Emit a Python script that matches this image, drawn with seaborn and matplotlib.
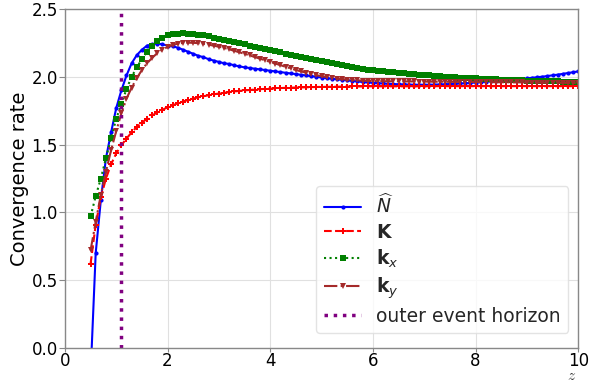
import numpy as np
import pandas as pd
import matplotlib
matplotlib.use("Agg")
import matplotlib.pyplot as plt
import seaborn as sns

# sample positions along z
z = [0.5, 0.6, 0.7, 0.8, 0.9, 1.0, 1.1, 1.2, 1.3, 1.4,
     1.5, 1.6, 1.7, 1.8, 1.9, 2.0, 2.1, 2.2, 2.3, 2.4,
     2.5, 2.6, 2.7, 2.8, 2.9, 3.0, 3.1, 3.2, 3.3, 3.4,
     3.5, 3.6, 3.7, 3.8, 3.9, 4.0, 4.1, 4.2, 4.3, 4.4,
     4.5, 4.6, 4.7, 4.8, 4.9, 5.0, 5.1, 5.2, 5.3, 5.4,
     5.5, 5.6, 5.7, 5.8, 5.9, 6.0, 6.1, 6.2, 6.3, 6.4,
     6.5, 6.6, 6.7, 6.8, 6.9, 7.0, 7.1, 7.2, 7.3, 7.4,
     7.5, 7.6, 7.7, 7.8, 7.9, 8.0, 8.1, 8.2, 8.3, 8.4,
     8.5, 8.6, 8.7, 8.8, 8.9, 9.0, 9.1, 9.2, 9.3, 9.4,
     9.5, 9.6, 9.7, 9.8, 9.9, 10.0]

# convergence rate of the lapse N-hat
rate_N = [-0.20, 0.70, 1.09, 1.40, 1.59, 1.77, 1.90, 2.01, 2.10, 2.16,
          2.20, 2.23, 2.24, 2.245, 2.24, 2.23, 2.225, 2.215, 2.20, 2.185,
          2.17, 2.155, 2.145, 2.13, 2.12, 2.11, 2.10, 2.095, 2.085, 2.077,
          2.07, 2.065, 2.06, 2.055, 2.05, 2.045, 2.04, 2.035, 2.03, 2.025,
          2.02, 2.015, 2.01, 2.005, 2.00, 1.995, 1.99, 1.986, 1.982, 1.978,
          1.974, 1.97, 1.966, 1.962, 1.959, 1.956, 1.953, 1.951, 1.949, 1.947,
          1.945, 1.944, 1.943, 1.942, 1.942, 1.942, 1.942, 1.943, 1.944, 1.945,
          1.947, 1.949, 1.951, 1.953, 1.955, 1.958, 1.961, 1.964, 1.967, 1.970,
          1.973, 1.976, 1.979, 1.982, 1.985, 1.989, 1.993, 1.997, 2.001, 2.006,
          2.011, 2.016, 2.022, 2.028, 2.034, 2.040]

# convergence rate of the mean curvature K
rate_K = [0.62, 0.91, 1.11, 1.25, 1.355, 1.435, 1.495, 1.545, 1.59, 1.63,
          1.663, 1.69, 1.715, 1.738, 1.757, 1.775, 1.79, 1.805, 1.818, 1.829,
          1.84, 1.849, 1.857, 1.864, 1.871, 1.877, 1.882, 1.887, 1.892, 1.896,
          1.90, 1.903, 1.906, 1.909, 1.911, 1.913, 1.915, 1.917, 1.919, 1.920,
          1.921, 1.922, 1.923, 1.924, 1.925, 1.926, 1.926, 1.927, 1.927, 1.928,
          1.928, 1.929, 1.929, 1.929, 1.930, 1.930, 1.930, 1.930, 1.930, 1.930,
          1.930, 1.930, 1.930, 1.930, 1.930, 1.930, 1.931, 1.931, 1.931, 1.931,
          1.931, 1.931, 1.931, 1.931, 1.931, 1.931, 1.931, 1.931, 1.931, 1.931,
          1.931, 1.931, 1.931, 1.931, 1.931, 1.931, 1.931, 1.931, 1.931, 1.931,
          1.931, 1.931, 1.931, 1.931, 1.931, 1.931]

# convergence rate of the k_x component
rate_kx = [0.97, 1.12, 1.25, 1.40, 1.55, 1.69, 1.80, 1.91, 2.00, 2.07,
           2.13, 2.185, 2.23, 2.265, 2.29, 2.305, 2.313, 2.318, 2.32, 2.319,
           2.316, 2.311, 2.305, 2.298, 2.29, 2.282, 2.274, 2.266, 2.258, 2.249,
           2.240, 2.231, 2.222, 2.213, 2.204, 2.196, 2.188, 2.180, 2.172, 2.164,
           2.156, 2.148, 2.140, 2.132, 2.124, 2.116, 2.108, 2.100, 2.093, 2.086,
           2.079, 2.072, 2.066, 2.060, 2.054, 2.048, 2.044, 2.040, 2.036, 2.032,
           2.028, 2.025, 2.022, 2.019, 2.016, 2.013, 2.010, 2.007, 2.004, 2.001,
           1.999, 1.997, 1.995, 1.993, 1.991, 1.989, 1.987, 1.985, 1.983, 1.981,
           1.979, 1.978, 1.976, 1.975, 1.973, 1.972, 1.971, 1.970, 1.969, 1.968,
           1.967, 1.966, 1.965, 1.964, 1.963, 1.962]

# convergence rate of the k_y component
rate_ky = [0.72, 0.93, 1.13, 1.30, 1.46, 1.60, 1.73, 1.84, 1.92, 1.99,
           2.05, 2.10, 2.14, 2.175, 2.20, 2.22, 2.235, 2.245, 2.25, 2.252,
           2.251, 2.248, 2.243, 2.237, 2.23, 2.222, 2.213, 2.203, 2.192, 2.181,
           2.17, 2.158, 2.146, 2.134, 2.122, 2.11, 2.098, 2.086, 2.074, 2.062,
           2.05, 2.04, 2.03, 2.02, 2.012, 2.005, 1.998, 1.992, 1.987, 1.983,
           1.979, 1.976, 1.974, 1.972, 1.970, 1.969, 1.968, 1.968, 1.967, 1.967,
           1.967, 1.966, 1.966, 1.966, 1.965, 1.965, 1.965, 1.964, 1.964, 1.964,
           1.963, 1.963, 1.963, 1.962, 1.962, 1.962, 1.961, 1.961, 1.961, 1.960,
           1.960, 1.960, 1.959, 1.959, 1.959, 1.958, 1.958, 1.958, 1.957, 1.957,
           1.957, 1.956, 1.956, 1.956, 1.955, 1.955]

horizon_z = 1.1

series_labels = [r"$\widehat{N}$", r"$\mathbf{K}$", r"$\mathbf{k}_x$", r"$\mathbf{k}_y$"]
series_values = [rate_N, rate_K, rate_kx, rate_ky]
series_colors = ["blue", "red", "green", "brown"]
series_styles = ["-", "--", ":", "-."]
series_markers = [".", "P", "s", "v"]
series_msize = [6, 5, 4, 4]

sns.set_style("whitegrid", {
    "axes.edgecolor": "#888888",
    "grid.color": "#e0e0e0",
    "xtick.bottom": True,
    "ytick.left": True,
    "xtick.color": "#888888",
    "ytick.color": "#888888",
})
plt.rcParams["font.family"] = ["DejaVu Sans"]
plt.rcParams["mathtext.fontset"] = "dejavusans"

fig = plt.figure(figsize=(5.9, 3.83), dpi=100)
ax = fig.add_axes([0.110, 0.0914, 0.870, 0.885])

for lab, vals, col, ls, mk, ms in zip(series_labels, series_values, series_colors,
                                      series_styles, series_markers, series_msize):
    df = pd.DataFrame({"z": z, "rate": vals})
    sns.lineplot(data=df, x="z", y="rate", ax=ax, color=col, linestyle=ls,
                 marker=mk, markersize=ms, markeredgewidth=0, linewidth=1.5,
                 label=lab, sort=False)

ax.axvline(horizon_z, color="purple", linestyle=":", linewidth=2.5,
           label="outer event horizon")

ax.set_xlim(0, 10)
ax.set_ylim(0, 2.5)
ax.set_xticks([0, 2, 4, 6, 8, 10])
ax.set_yticks([0.0, 0.5, 1.0, 1.5, 2.0, 2.5])
ax.set_yticklabels(["0.0", "0.5", "1.0", "1.5", "2.0", "2.5"])
ax.tick_params(axis="both", labelsize=12, labelcolor="black", width=0.8)
ax.tick_params(axis="x", length=3, pad=0)
ax.tick_params(axis="y", length=4, pad=1)

ax.set_ylabel("Convergence rate", fontsize=14, color="black", labelpad=2)
ax.set_xlabel("")
fig.text(0.969, 0.009, r"$z$", fontsize=11, math_fontfamily="cm",
         ha="center", va="baseline", color="#333333")

for s in ax.spines.values():
    s.set_color("#888888")
    s.set_linewidth(1.0)

leg = ax.legend(loc="lower right", bbox_to_anchor=(0.981, 0.044), borderaxespad=0,
                fontsize=13.5, labelspacing=0.3, handlelength=2.0, handletextpad=0.8,
                frameon=True, framealpha=0.8, edgecolor="#dddddd")

fig.savefig("out.png", dpi=100)
